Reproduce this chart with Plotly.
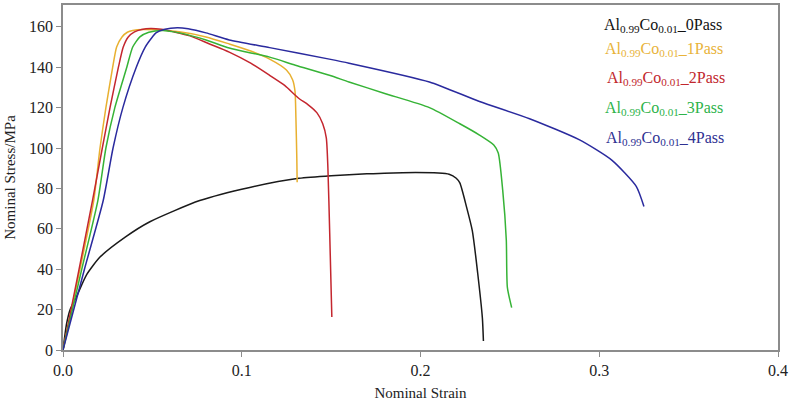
import plotly.graph_objects as go

# Strain (x) / Stress MPa (y)
strain_0 = [0, 0.001, 0.002, 0.004, 0.0076, 0.013, 0.0207, 0.035, 0.0486, 0.0765, 0.1045,
            0.132, 0.15, 0.17, 0.19, 0.21, 0.216, 0.22, 0.222, 0.2257, 0.229, 0.232, 0.2346, 0.2352]
stress_0 = [0, 7, 13, 20, 26.5, 37, 46, 56, 63.5, 74, 80.5,
            85, 86.3, 87.2, 87.8, 87.6, 87, 85, 82.7, 71, 59, 38, 16, 4.5]

strain_1 = [0, 0.0095, 0.0172, 0.0207, 0.024, 0.0278, 0.030, 0.033, 0.036, 0.039, 0.045,
            0.052, 0.065, 0.08, 0.093, 0.105, 0.1156, 0.125, 0.1285, 0.1298, 0.1303, 0.1308, 0.131]
stress_1 = [0, 40, 74, 100, 120, 140, 150, 155, 157.3, 158.2, 158.7,
            158.5, 157.5, 155, 151.5, 148, 144, 138.6, 133.7, 128, 115, 95, 83]

strain_2 = [0, 0.009, 0.0165, 0.022, 0.0263, 0.031, 0.0337, 0.0365, 0.040, 0.044, 0.049,
            0.055, 0.062, 0.071, 0.082, 0.093, 0.105, 0.1156, 0.124, 0.132, 0.137, 0.142,
            0.1453, 0.1473, 0.1482, 0.1492, 0.1504]
stress_2 = [0, 40, 74, 100, 120, 140, 150, 155, 157.5, 158.7, 159.2,
            158.8, 157.5, 155.5, 151.5, 147.5, 142, 136, 131, 124.5, 121.5, 117.5,
            112, 105, 90, 58, 16.3]

strain_3 = [0, 0.0105, 0.0195, 0.024, 0.029, 0.0357, 0.039, 0.043, 0.048, 0.056, 0.065,
            0.08, 0.093, 0.1156, 0.13, 0.149, 0.160, 0.18, 0.205, 0.222, 0.233, 0.241,
            0.2435, 0.246, 0.248, 0.2486, 0.251]
stress_3 = [0, 40, 74, 100, 120, 140, 150, 155, 157.3, 158.2, 157,
            153.5, 149.5, 145, 141, 136, 132.7, 127, 120, 112, 106.4, 101.5,
            97.5, 79, 54.5, 31, 21]

strain_4 = [0, 0.012, 0.0225, 0.028, 0.0335, 0.041, 0.046, 0.050, 0.052, 0.057, 0.064,
            0.07, 0.08, 0.093, 0.1156, 0.149, 0.160, 0.205, 0.233, 0.261, 0.289, 0.307,
            0.3207, 0.325]
stress_4 = [0, 40, 74, 100, 120, 140, 150, 155, 157, 158.8, 159.5,
            159, 157, 153.5, 149.7, 144, 142, 132.7, 123, 114.5, 104, 94,
            81, 71]

labels = ["Al<sub>0.99</sub>Co<sub>0.01</sub>_0Pass",
          "Al<sub>0.99</sub>Co<sub>0.01</sub>_1Pass",
          "Al<sub>0.99</sub>Co<sub>0.01</sub>_2Pass",
          "Al<sub>0.99</sub>Co<sub>0.01</sub>_3Pass",
          "Al<sub>0.99</sub>Co<sub>0.01</sub>_4Pass"]
line_colors = ["#1a1a1a", "#E8B030", "#C4262E", "#36B336", "#2A2A9E"]
text_colors = ["#111111", "#E8B33A", "#C1272D", "#2DB34A", "#2E3192"]

x_ticks = [0.0, 0.1, 0.2, 0.3, 0.4]
y_ticks = [0, 20, 40, 60, 80, 100, 120, 140, 160]

series = [(strain_0, stress_0), (strain_1, stress_1), (strain_2, stress_2),
          (strain_3, stress_3), (strain_4, stress_4)]

fig = go.Figure()
for (xs, ys), c, name in zip(series, line_colors, labels):
    fig.add_trace(go.Scatter(x=xs, y=ys, mode="lines", name=name,
                             line=dict(color=c, width=1.5, shape="spline", smoothing=0.6),
                             showlegend=False))

leg_x = [0.754, 0.755, 0.758, 0.755, 0.757]
leg_y = [0.942, 0.870, 0.786, 0.701, 0.612]
for lbl, c, lx, ly in zip(labels, text_colors, leg_x, leg_y):
    fig.add_annotation(text=lbl, x=lx, y=ly, xref="paper", yref="paper",
                       xanchor="left", yanchor="middle", showarrow=False,
                       font=dict(family="Liberation Serif", size=16, color=c))

axis_common = dict(showgrid=False, zeroline=False, showline=True, linecolor="#8c8c8c",
                   linewidth=1.5, mirror=True, ticks="outside", tickcolor="#8c8c8c",
                   ticklen=5, tickwidth=1.2, automargin=False,
                   tickfont=dict(family="Liberation Serif", size=16, color="#222"))

fig.update_layout(
    width=793, height=402,
    margin=dict(l=63, r=15, t=5, b=52),
    paper_bgcolor="white", plot_bgcolor="white",
    xaxis=dict(range=[0, 0.4], tickvals=x_ticks, tickformat=".1f",
               title=dict(text="Nominal Strain", standoff=10,
                          font=dict(family="Liberation Serif", size=15, color="#222")),
               **axis_common),
    yaxis=dict(range=[0, 170.8], tickvals=y_ticks,
               title=dict(text="Nominal Stress/MPa", standoff=10,
                          font=dict(family="Liberation Serif", size=15, color="#222")),
               **axis_common),
)

fig.write_html("out.html", config={"displayModeBar": False},
               post_script="document.body.style.margin='0';")
